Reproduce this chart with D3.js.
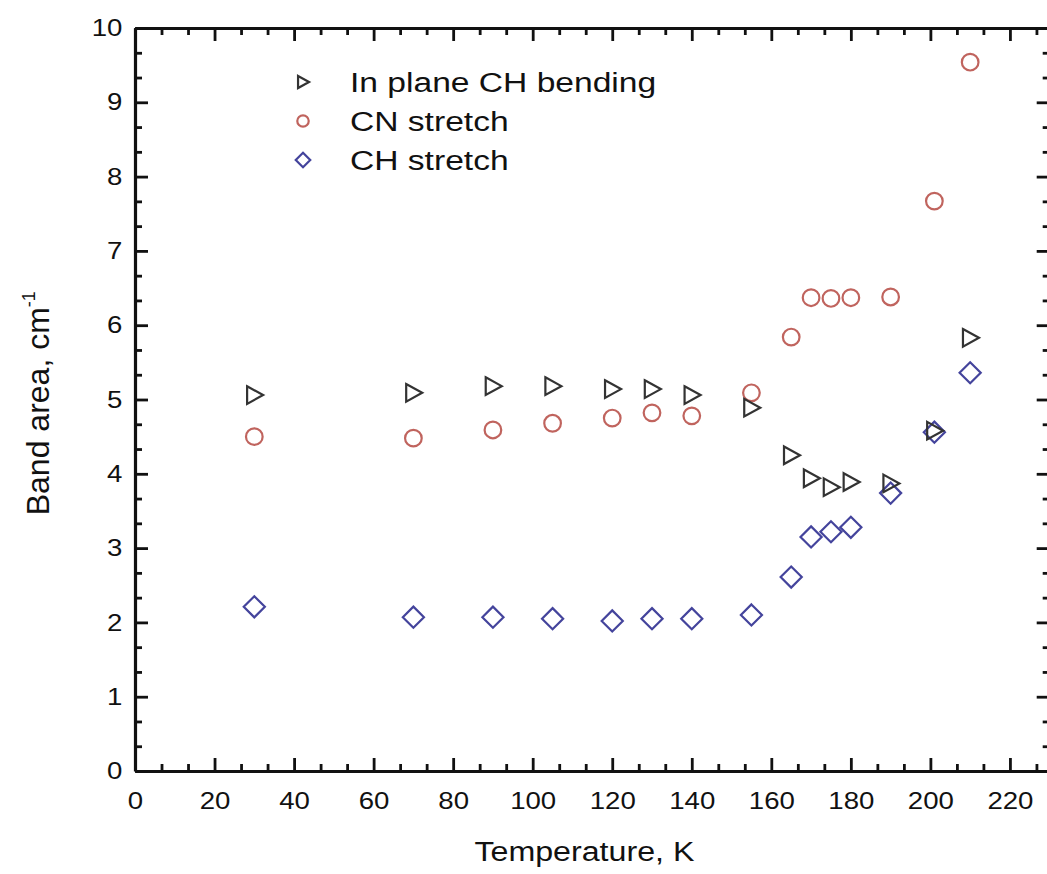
<!DOCTYPE html>
<html>
<head>
<meta charset="utf-8">
<script src="https://cdn.jsdelivr.net/npm/d3@7"></script>
<style>
  body { margin: 0; background: #fff; }
  text { font-family: "Liberation Sans", Arial, sans-serif; fill: #111; }
</style>
</head>
<body>
<svg id="chart" width="1047" height="874"></svg>
<script>
// Temperatures (K) at which band areas were measured
const temps = [30, 70, 90, 105, 120, 130, 140, 155, 165, 170, 175, 180, 190, 201, 210];
// band areas, cm-1
const chBending = [5.06, 5.09, 5.18, 5.18, 5.14, 5.14, 5.06, 4.89, 4.25, 3.94, 3.82, 3.89, 3.87, 4.58, 5.83];
const cnStretch = [4.50, 4.48, 4.59, 4.68, 4.75, 4.82, 4.78, 5.09, 5.84, 6.37, 6.36, 6.37, 6.38, 7.67, 9.54];
const chStretch = [2.21, 2.07, 2.07, 2.05, 2.02, 2.05, 2.05, 2.10, 2.61, 3.15, 3.22, 3.28, 3.74, 4.56, 5.36];

const seriesNames = ["In plane CH bending", "CN stretch", "CH stretch"];
const xTicks = [0, 20, 40, 60, 80, 100, 120, 140, 160, 180, 200, 220];
const yTicks = [0, 1, 2, 3, 4, 5, 6, 7, 8, 9, 10];

const margin = {top: 28, right: 0, bottom: 103, left: 135},
    width = 1049.7 - margin.left,
    height = 874 - margin.top - margin.bottom,
    stretch = 1.15;   // glyphs in the picture are a bit wide

const svg = d3.select("#chart");
const g = svg.append("g")
    .attr("transform", `translate(${margin.left},${margin.top})`);

const x = d3.scaleLinear().domain([0, 230]).range([0, width]);
const y = d3.scaleLinear().domain([0, 10]).range([height, 0]);

// minor ticks every third of a major step
const xMinor = d3.range(0, 231, 20 / 3).filter(v => Math.abs(v / 20 - Math.round(v / 20)) > 1e-6);
const yMinor = d3.range(0, 10.01, 1 / 3).filter(v => Math.abs(v - Math.round(v)) > 1e-6);

function styleAxis(sel) {
    sel.selectAll("path, line").attr("stroke", "#111");
    sel.select(".domain").attr("stroke-width", 3.2);
    sel.selectAll(".tick line").attr("stroke-width", 2.8);
}

// Axes (ticks inward on all four sides)
// ----------------------------------------
g.append("g").attr("transform", `translate(0,${height})`)
    .call(d3.axisBottom(x).tickValues(xTicks).tickSizeInner(-13).tickSizeOuter(0).tickPadding(21))
    .call(styleAxis)
    .call(a => a.selectAll("text")
        .attr("font-size", 24)
        .attr("transform", `scale(${stretch},1)`));
g.append("g").attr("transform", `translate(0,${height})`)
    .call(d3.axisBottom(x).tickValues(xMinor).tickSize(-7).tickFormat(""))
    .call(styleAxis).select(".domain").remove();

g.append("g")
    .call(d3.axisTop(x).tickValues(xTicks).tickSizeInner(-13).tickSizeOuter(0).tickFormat(""))
    .call(styleAxis);
g.append("g")
    .call(d3.axisTop(x).tickValues(xMinor).tickSize(-7).tickFormat(""))
    .call(styleAxis).select(".domain").remove();

g.append("g")
    .call(d3.axisLeft(y).tickValues(yTicks).tickSizeInner(-13).tickSizeOuter(0).tickPadding(11))
    .call(styleAxis)
    .call(a => a.selectAll("text")
        .attr("font-size", 24)
        .attr("transform", `scale(${stretch},1)`));
g.append("g")
    .call(d3.axisLeft(y).tickValues(yMinor).tickSize(-7).tickFormat(""))
    .call(styleAxis).select(".domain").remove();

g.append("g").attr("transform", `translate(${width},0)`)
    .call(d3.axisRight(y).tickValues(yTicks).tickSizeInner(-13).tickSizeOuter(0).tickFormat(""))
    .call(styleAxis);
g.append("g").attr("transform", `translate(${width},0)`)
    .call(d3.axisRight(y).tickValues(yMinor).tickSize(-7).tickFormat(""))
    .call(styleAxis).select(".domain").remove();

g.selectAll(".tick text").attr("fill", "#111");

// Axis titles
svg.append("text")
    .attr("transform", `translate(${margin.left + x(113)},861) scale(${stretch},1)`)
    .attr("text-anchor", "middle")
    .attr("font-size", 28)
    .text("Temperature, K");

const yTitle = svg.append("text")
    .attr("transform", `translate(49,${margin.top + y(4.95)}) rotate(-90)`)
    .attr("text-anchor", "middle")
    .attr("font-size", 32);
yTitle.append("tspan").text("Band area, cm");
yTitle.append("tspan").attr("font-size", 18).attr("dy", -14).text("-1");

// Markers
// ----------------------------------------
const colors = ["#333333", "#c0645e", "#44449c"];

function marker(sel, type, s) {
    if (type === 0)
        sel.append("path").attr("d", `M${-s * 0.45},${-s * 0.55}L${s * 0.55},0L${-s * 0.45},${s * 0.55}Z`);
    else if (type === 1)
        sel.append("circle").attr("r", s * 0.52);
    else
        sel.append("path").attr("d", `M0,${-s * 0.66}L${s * 0.66},0L0,${s * 0.66}L${-s * 0.66},0Z`);
    sel.selectAll("path, circle")
        .attr("fill", "none")
        .attr("stroke", colors[type])
        .attr("stroke-width", 2.2);
}

const allSeries = [chBending, cnStretch, chStretch];
// draw CH stretch first so bending triangles sit on top as in the picture
[2, 1, 0].forEach(k => {
    allSeries[k].forEach((v, i) => {
        g.append("g")
            .attr("transform", `translate(${x(temps[i])},${y(v)})`)
            .call(marker, k, 16);
    });
});

// Legend
// ----------------------------------------
const legend = svg.append("g").attr("transform", "translate(303,82)");
seriesNames.forEach((name, k) => {
    const row = legend.append("g").attr("transform", `translate(0,${k * 39})`);
    row.append("g").call(marker, k, 11);
    row.append("text")
        .attr("transform", `translate(47,10) scale(1.2,1)`)
        .attr("font-size", 28)
        .text(name);
});
</script>
</body>
</html>
